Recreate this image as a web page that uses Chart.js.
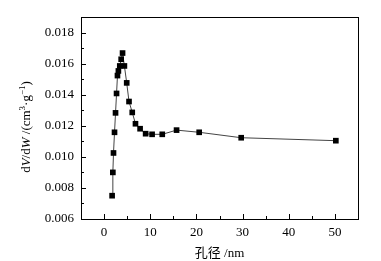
<!DOCTYPE html>
<html>
<head>
<meta charset="utf-8">
<script src="https://cdn.jsdelivr.net/npm/chart.js@4/dist/chart.umd.min.js"></script>
<style>
  html, body { margin: 0; padding: 0; background: #fff; }
  #wrap { width: 381px; height: 261px; }
</style>
</head>
<body>
<div id="wrap"><canvas id="poreChart" width="381" height="261"></canvas></div>
<script>
// Pore size distribution
const poreSize = [1.74, 1.9, 2.04, 2.26, 2.48, 2.7, 2.9, 3.1, 3.4, 3.7, 4.0, 4.4, 4.9, 5.4, 6.1, 6.8, 7.8, 9.0, 10.4, 12.6, 15.7, 20.6, 29.7, 50.2];
const dVdW = [0.0075, 0.0090, 0.01025, 0.01158, 0.01283, 0.01408, 0.01523, 0.01553, 0.01585, 0.01628, 0.01668, 0.01585, 0.01476, 0.01356, 0.01286, 0.01213, 0.01181, 0.01149, 0.01145, 0.01145, 0.01172, 0.01158, 0.01123, 0.01104];

const xTicks = [0, 10, 20, 30, 40, 50];
const xMinorTicks = [-5, 5, 15, 25, 35, 45, 55];
const yTicks = [0.006, 0.008, 0.010, 0.012, 0.014, 0.016, 0.018];
const yMinorTicks = [0.007, 0.009, 0.011, 0.013, 0.015, 0.017, 0.019];

const serif = '"Liberation Serif", "Times New Roman", "Noto Sans CJK SC", serif';

// inward ticks + frame round the plot
const frameTicks = {
    id: 'frameTicks',
    afterDraw(chart) {
        const ctx = chart.ctx;
        const a = chart.chartArea;
        const xs = chart.scales.x, ys = chart.scales.y;
        ctx.save();
        ctx.strokeStyle = '#000';
        ctx.lineWidth = 1;
        ctx.strokeRect(Math.round(a.left) + 0.5, Math.round(a.top) + 0.5,
            Math.round(a.right - a.left), Math.round(a.bottom - a.top));
        ctx.beginPath();
        yTicks.forEach(v => {
            const y = Math.round(ys.getPixelForValue(v)) + 0.5;
            ctx.moveTo(a.left, y); ctx.lineTo(a.left + 5, y);
        });
        yMinorTicks.forEach(v => {
            const y = Math.round(ys.getPixelForValue(v)) + 0.5;
            ctx.moveTo(a.left, y); ctx.lineTo(a.left + 3, y);
        });
        xTicks.forEach(v => {
            const x = Math.round(xs.getPixelForValue(v)) + 0.5;
            ctx.moveTo(x, a.bottom); ctx.lineTo(x, a.bottom - 5);
        });
        xMinorTicks.forEach(v => {
            const x = Math.round(xs.getPixelForValue(v)) + 0.5;
            ctx.moveTo(x, a.bottom); ctx.lineTo(x, a.bottom - 3);
        });
        ctx.stroke();

        // y title with italic V and W, superscripts
        const parts = [
            ['d', 0, ''], ['V', 0, 'italic '], ['/d', 0, ''], ['W', 0, 'italic '],
            [' /(cm', 0, ''], ['3', 1, ''], ['\u00b7g', 0, ''], ['\u22121', 1, ''], [')', 0, '']
        ];
        const fontFor = p => p[2] + (p[1] ? '9px ' : '13px ') + serif;
        let total = 0;
        parts.forEach(p => { ctx.font = fontFor(p); total += ctx.measureText(p[0]).width; });
        ctx.translate(27, (a.top + a.bottom) / 2 + 9);
        ctx.rotate(-Math.PI / 2);
        ctx.fillStyle = '#000';
        ctx.textBaseline = 'middle';
        let x = -total / 2;
        parts.forEach(p => {
            ctx.font = fontFor(p);
            ctx.fillText(p[0], x, p[1] ? -4 : 0);
            x += ctx.measureText(p[0]).width;
        });
        ctx.restore();
    }
};

new Chart(document.getElementById('poreChart'), {
    type: 'scatter',
    data: {
        datasets: [{
            data: poreSize.map((s, i) => ({ x: s, y: dVdW[i] })),
            showLine: true,
            borderColor: '#444',
            borderWidth: 1,
            pointStyle: 'rect',
            pointRadius: 4,
            pointBackgroundColor: '#000',
            pointBorderColor: '#000',
            pointBorderWidth: 0
        }]
    },
    options: {
        responsive: false,
        animation: false,
        layout: { padding: { top: 17, right: 23, left: 0, bottom: 0 } },
        plugins: { legend: { display: false }, tooltip: { enabled: false } },
        scales: {
            x: {
                type: 'linear',
                min: -5, max: 55,
                afterBuildTicks: s => { s.ticks = xTicks.map(v => ({ value: v })); },
                afterFit: s => { s.height = 42; },
                grid: { display: false, drawTicks: false },
                border: { display: true, color: '#000', width: 1 },
                ticks: { color: '#000', padding: 6, maxRotation: 0, font: { family: serif, size: 13 } },
                title: { display: true, text: '孔径 /nm', color: '#000', padding: { top: 4, bottom: 0 }, font: { family: serif, size: 13 } }
            },
            y: {
                min: 0.006, max: 0.019,
                afterBuildTicks: s => { s.ticks = yTicks.map(v => ({ value: v })); },
                afterFit: s => { s.width = 81; },
                grid: { display: false, drawTicks: false },
                border: { display: true, color: '#000', width: 1 },
                ticks: { color: '#000', padding: 7, callback: v => v.toFixed(3), font: { family: serif, size: 13 } }
            }
        }
    },
    plugins: [frameTicks]
});
</script>
</body>
</html>
